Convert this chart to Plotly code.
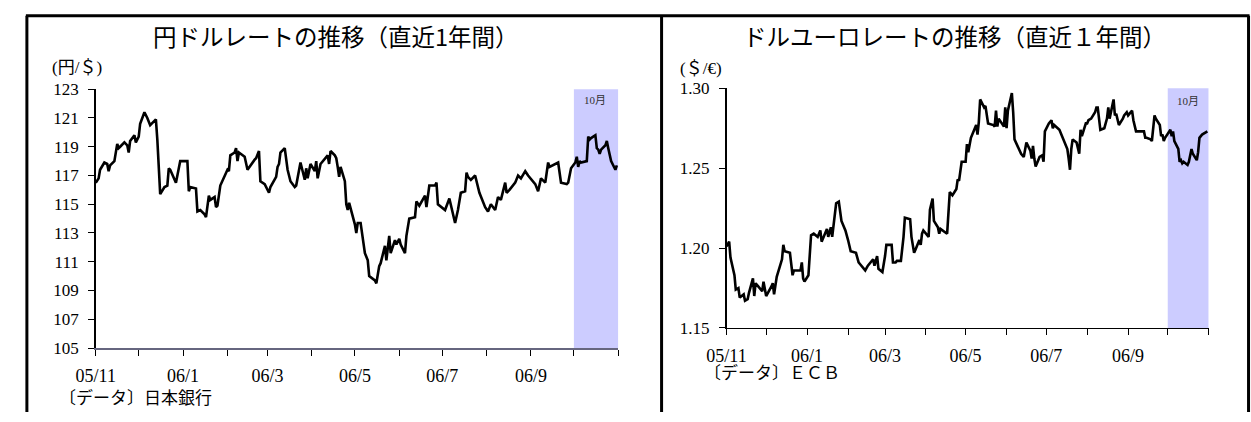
import plotly.graph_objects as go

# ---------------- data ----------------
JPY_DATES = [
    "2005-11-01","2005-11-03","2005-11-04","2005-11-07","2005-11-09","2005-11-10","2005-11-11","2005-11-14",
    "2005-11-16","2005-11-17","2005-11-18","2005-11-21","2005-11-23","2005-11-24","2005-11-25","2005-11-28",
    "2005-11-29","2005-12-01","2005-12-02","2005-12-05","2005-12-07","2005-12-09","2005-12-13","2005-12-14",
    "2005-12-16","2005-12-19","2005-12-21","2005-12-22","2005-12-23","2005-12-27","2005-12-30","2006-01-04",
    "2006-01-05","2006-01-06","2006-01-10","2006-01-11","2006-01-13","2006-01-16","2006-01-17","2006-01-19",
    "2006-01-20","2006-01-23","2006-01-24","2006-01-25","2006-01-27","2006-02-01","2006-02-02","2006-02-03",
    "2006-02-06","2006-02-07","2006-02-08","2006-02-09","2006-02-13","2006-02-15","2006-02-20","2006-02-21",
    "2006-02-23","2006-02-24","2006-02-27","2006-03-02","2006-03-03","2006-03-07","2006-03-08","2006-03-09",
    "2006-03-10","2006-03-13","2006-03-15","2006-03-17","2006-03-20","2006-03-21","2006-03-24","2006-03-27",
    "2006-03-28","2006-03-29","2006-03-31","2006-04-03","2006-04-04","2006-04-05","2006-04-07","2006-04-10",
    "2006-04-12","2006-04-13","2006-04-14","2006-04-17","2006-04-18","2006-04-19","2006-04-20","2006-04-21",
    "2006-04-24","2006-04-25","2006-04-26","2006-04-27","2006-05-01","2006-05-02","2006-05-03","2006-05-05",
    "2006-05-08","2006-05-10","2006-05-11","2006-05-15","2006-05-16","2006-05-18","2006-05-19","2006-05-22",
    "2006-05-23","2006-05-25","2006-05-26","2006-05-29","2006-05-30","2006-06-01","2006-06-02","2006-06-05",
    "2006-06-06","2006-06-08","2006-06-12","2006-06-13","2006-06-15","2006-06-19","2006-06-20","2006-06-22",
    "2006-06-26","2006-06-27","2006-06-28","2006-07-03","2006-07-04","2006-07-06","2006-07-10","2006-07-12",
    "2006-07-14","2006-07-17","2006-07-18","2006-07-19","2006-07-21","2006-07-24","2006-07-27","2006-07-31",
    "2006-08-02","2006-08-04","2006-08-07","2006-08-09","2006-08-11","2006-08-14","2006-08-15","2006-08-17",
    "2006-08-21","2006-08-23","2006-08-25","2006-08-28","2006-08-30","2006-09-04","2006-09-06","2006-09-08",
    "2006-09-11","2006-09-13","2006-09-14","2006-09-18","2006-09-20","2006-09-22","2006-09-26","2006-09-27",
    "2006-09-29","2006-10-02","2006-10-03","2006-10-04","2006-10-05","2006-10-06","2006-10-10","2006-10-11",
    "2006-10-12","2006-10-13","2006-10-16","2006-10-17","2006-10-18","2006-10-19","2006-10-20","2006-10-23",
    "2006-10-24","2006-10-25","2006-10-26","2006-10-27","2006-10-30","2006-10-31",
]
JPY_RATES = [
    116.5,116.8,117.4,117.9,117.8,117.3,117.7,118.0,
    119.2,118.9,119.0,119.3,119.1,118.6,119.4,119.8,
    119.3,119.7,120.6,121.4,121.0,120.5,120.9,119.5,
    115.7,116.2,116.3,117.5,117.4,116.5,118.0,118.0,
    115.9,116.2,116.1,114.5,114.6,114.3,114.1,115.6,
    115.3,115.5,114.8,114.9,116.3,117.4,117.3,118.4,
    118.6,118.9,118.0,118.6,118.3,117.4,118.1,118.2,
    118.7,116.6,116.4,115.8,116.2,116.9,117.6,117.8,
    118.6,118.9,117.4,116.6,116.2,116.3,117.9,116.7,
    117.5,116.8,117.8,117.3,118.0,116.8,117.8,118.2,
    118.4,117.8,118.7,118.4,118.2,117.6,116.9,117.6,
    116.6,115.0,114.6,115.1,113.6,113.0,113.7,113.7,
    111.6,111.1,110.0,109.7,109.5,110.7,110.9,112.1,
    111.1,112.8,111.6,112.5,112.2,112.6,112.2,111.6,
    112.8,114.0,114.1,115.2,114.9,115.6,114.8,116.3,
    116.3,116.5,115.0,114.6,114.9,115.4,113.7,114.6,
    115.8,115.9,117.2,116.9,116.7,117.0,115.8,114.8,
    114.5,115.0,114.6,115.5,115.3,116.5,115.8,116.0,
    116.5,117.0,116.8,117.3,117.0,116.4,115.9,116.8,
    116.5,117.9,117.6,117.8,117.9,116.5,116.4,116.5,
    117.5,117.9,118.3,117.6,118.0,117.9,118.0,119.7,
    119.5,119.6,119.8,118.9,118.8,118.5,118.8,119.1,
    119.4,118.9,118.4,118.0,117.4,117.7,
]

EUR_DATES = [
    "2005-11-01","2005-11-03","2005-11-04","2005-11-07","2005-11-08","2005-11-10","2005-11-11","2005-11-14",
    "2005-11-15","2005-11-17","2005-11-18","2005-11-21","2005-11-22","2005-11-23","2005-11-25","2005-11-28",
    "2005-11-29","2005-12-01","2005-12-05","2005-12-06","2005-12-07","2005-12-09","2005-12-13","2005-12-14",
    "2005-12-15","2005-12-19","2005-12-21","2005-12-22","2005-12-27","2005-12-28","2005-12-29","2005-12-30",
    "2006-01-02","2006-01-04","2006-01-06","2006-01-09","2006-01-11","2006-01-12","2006-01-16","2006-01-17",
    "2006-01-19","2006-01-20","2006-01-23","2006-01-25","2006-01-27","2006-01-30","2006-02-01","2006-02-03",
    "2006-02-07","2006-02-09","2006-02-10","2006-02-14","2006-02-16","2006-02-20","2006-02-21","2006-02-23",
    "2006-02-24","2006-02-27","2006-03-01","2006-03-02","2006-03-06","2006-03-07","2006-03-09","2006-03-10",
    "2006-03-13","2006-03-15","2006-03-16","2006-03-20","2006-03-21","2006-03-23","2006-03-24","2006-03-27",
    "2006-03-28","2006-03-29","2006-03-30","2006-04-03","2006-04-04","2006-04-06","2006-04-07","2006-04-10",
    "2006-04-11","2006-04-12","2006-04-17","2006-04-18","2006-04-19","2006-04-21","2006-04-24","2006-04-25",
    "2006-04-26","2006-04-28","2006-05-01","2006-05-02","2006-05-03","2006-05-05","2006-05-08","2006-05-09",
    "2006-05-10","2006-05-11","2006-05-12","2006-05-15","2006-05-16","2006-05-18","2006-05-22","2006-05-23",
    "2006-05-24","2006-05-25","2006-05-26","2006-05-29","2006-05-30","2006-05-31","2006-06-01","2006-06-02",
    "2006-06-05","2006-06-06","2006-06-07","2006-06-12","2006-06-14","2006-06-16","2006-06-19","2006-06-20",
    "2006-06-21","2006-06-22","2006-06-23","2006-06-26","2006-06-28","2006-06-29","2006-06-30","2006-07-03",
    "2006-07-05","2006-07-06","2006-07-07","2006-07-11","2006-07-14","2006-07-17","2006-07-18","2006-07-19",
    "2006-07-20","2006-07-21","2006-07-24","2006-07-25","2006-07-26","2006-07-27","2006-07-28","2006-07-31",
    "2006-08-01","2006-08-02","2006-08-04","2006-08-07","2006-08-08","2006-08-09","2006-08-10","2006-08-11",
    "2006-08-14","2006-08-16","2006-08-17","2006-08-18","2006-08-21","2006-08-22","2006-08-23","2006-08-25",
    "2006-08-28","2006-08-29","2006-08-31","2006-09-01","2006-09-04","2006-09-05","2006-09-07","2006-09-11",
    "2006-09-13","2006-09-14","2006-09-15","2006-09-18","2006-09-19","2006-09-21","2006-09-22","2006-09-25",
    "2006-09-26","2006-09-27","2006-09-28","2006-09-29","2006-10-03","2006-10-04","2006-10-05","2006-10-06",
    "2006-10-09","2006-10-10","2006-10-11","2006-10-12","2006-10-13","2006-10-16","2006-10-17","2006-10-19",
    "2006-10-20","2006-10-23","2006-10-24","2006-10-25","2006-10-27","2006-10-31",
]
EUR_RATES = [
    1.201,1.204,1.194,1.183,1.174,1.175,1.169,1.171,
    1.167,1.168,1.172,1.181,1.170,1.178,1.176,1.173,
    1.179,1.170,1.176,1.178,1.171,1.182,1.193,1.202,
    1.198,1.197,1.183,1.186,1.186,1.191,1.181,1.179,
    1.183,1.208,1.209,1.207,1.211,1.204,1.212,1.207,
    1.213,1.207,1.228,1.229,1.217,1.211,1.205,1.198,
    1.197,1.191,1.190,1.186,1.189,1.193,1.189,1.195,
    1.187,1.185,1.195,1.202,1.202,1.191,1.191,1.192,
    1.192,1.207,1.219,1.218,1.207,1.197,1.199,1.205,
    1.202,1.209,1.211,1.207,1.224,1.231,1.217,1.213,
    1.209,1.212,1.209,1.226,1.235,1.233,1.237,1.243,
    1.242,1.254,1.254,1.265,1.260,1.269,1.275,1.277,
    1.271,1.279,1.293,1.288,1.289,1.278,1.277,1.276,
    1.286,1.276,1.281,1.277,1.276,1.288,1.275,1.286,
    1.297,1.285,1.268,1.259,1.257,1.266,1.261,1.256,
    1.264,1.256,1.251,1.257,1.258,1.254,1.273,1.278,
    1.280,1.275,1.277,1.274,1.268,1.262,1.256,1.249,
    1.262,1.268,1.266,1.263,1.259,1.274,1.270,1.278,
    1.278,1.280,1.281,1.285,1.288,1.288,1.279,1.274,
    1.275,1.281,1.288,1.281,1.293,1.283,1.284,1.277,
    1.281,1.283,1.285,1.283,1.286,1.280,1.273,1.273,
    1.273,1.269,1.269,1.268,1.267,1.283,1.281,1.277,
    1.270,1.271,1.267,1.269,1.274,1.270,1.273,1.267,
    1.262,1.254,1.255,1.253,1.254,1.252,1.254,1.262,
    1.259,1.255,1.260,1.269,1.271,1.273,
]

X_TICK_DATES = ["2005-11-01","2006-01-01","2006-03-01","2006-05-01","2006-07-01","2006-09-01","2006-11-01"]
X_TICK_LABELS = ["05/11","06/1","06/3","06/5","06/7","06/9",""]
X_RANGE = ["2005-11-01","2006-11-01"]
SHADE = ["2006-10-01","2006-11-01"]
SHADE_LABEL_DATE = "2006-10-16"

JPY_RANGE = [105, 123]
EUR_RANGE = [1.15, 1.30]

TITLE_L = "円ドルレートの推移（直近1年間）"
TITLE_R = "ドルユーロレートの推移（直近１年間）"
UNIT_L = "(円/＄)"
UNIT_R = "(＄/€)"
SRC_L = "〔データ〕日本銀行"
SRC_R = "〔データ〕ＥＣＢ"
SHADE_TXT = "10月"

# ---------------- figure ----------------
W, H = 1251, 422
SERIF = "Liberation Serif, Noto Sans CJK JP, serif"
SANS = "Noto Sans CJK JP, sans-serif"

def px(x):
    return x / W

def py(y):
    return 1 - y / H

fig = go.Figure()
fig.add_trace(go.Scatter(x=JPY_DATES, y=JPY_RATES, mode="lines",
                         line=dict(color="black", width=2.6), xaxis="x", yaxis="y",
                         showlegend=False, hoverinfo="skip"))
fig.add_trace(go.Scatter(x=EUR_DATES, y=EUR_RATES, mode="lines",
                         line=dict(color="black", width=2.6), xaxis="x2", yaxis="y2",
                         showlegend=False, hoverinfo="skip"))

xtickfont = dict(family=SERIF, size=18, color="black")
ytickfont = dict(family=SERIF, size=17, color="black")

def xaxis(domain, anchor, linecolor):
    return dict(domain=domain, anchor=anchor, type="date", range=X_RANGE,
                tickmode="array", tickvals=X_TICK_DATES, ticktext=X_TICK_LABELS,
                ticks="outside", ticklen=6, tickwidth=1, tickcolor="black",
                minor=dict(dtick="M1", tick0="2005-11-01", ticks="outside", ticklen=6,
                           tickwidth=1, tickcolor="black", showgrid=False),
                showline=True, linecolor=linecolor, linewidth=1.5,
                showgrid=False, zeroline=False, tickfont=xtickfont,
                ticklabelstandoff=5, fixedrange=True)

def yaxis(domain, anchor, rng, dtick, fmt):
    return dict(domain=domain, anchor=anchor, range=rng, tick0=rng[0], dtick=dtick,
                tickformat=fmt, ticks="outside", ticklen=6, tickwidth=1, tickcolor="black",
                showline=True, linecolor="black", linewidth=1.5, showgrid=False,
                zeroline=False, tickfont=ytickfont, ticklabelstandoff=6, fixedrange=True)

fig.update_layout(
    width=W, height=H, autosize=False,
    margin=dict(l=0, r=0, t=0, b=0),
    paper_bgcolor="white", plot_bgcolor="white",
    xaxis=xaxis([px(77), px(608)], "y", "#66667f"),
    yaxis=yaxis([py(355), py(84)], "x", JPY_RANGE, 2, "d"),
    xaxis2=xaxis([px(718), px(1208)], "y2", "black"),
    yaxis2=yaxis([py(334), py(83)], "x2", EUR_RANGE, 0.05, ".2f"),
)

shapes = []
for xr, yr in (("x", "y domain"), ("x2", "y2 domain")):
    shapes.append(dict(type="rect", xref=xr, yref=yr, x0=SHADE[0], x1=SHADE[1], y0=0, y1=1,
                       fillcolor="#ccccff", line=dict(width=0), layer="below"))
border = dict(color="black", width=3)
shapes += [
    dict(type="line", xref="paper", yref="paper", x0=px(6), x1=px(1249.5), y0=py(7), y1=py(7), line=border),
    dict(type="line", xref="paper", yref="paper", x0=px(7), x1=px(7), y0=py(7), y1=0, line=border),
    dict(type="line", xref="paper", yref="paper", x0=px(652), x1=px(652), y0=py(7), y1=0, line=border),
    dict(type="line", xref="paper", yref="paper", x0=px(1248.5), x1=px(1248.5), y0=py(7), y1=0, line=border),
]
fig.update_layout(shapes=shapes)

ann = []
def text(x, y, s, font, xanchor="left", xref="paper", yref="paper"):
    ann.append(dict(x=x, y=y, xref=xref, yref=yref, text=s, showarrow=False,
                    xanchor=xanchor, yanchor="middle", font=font))

text(px(321), py(28), TITLE_L, dict(family=SANS, size=23.5, color="black"), "center")
text(px(950), py(28), TITLE_R, dict(family=SANS, size=23.5, color="black"), "center")
text(px(30), py(61), UNIT_L, dict(family=SERIF, size=17, color="black"))
text(px(669), py(62), UNIT_R, dict(family=SERIF, size=17, color="black"))
text(px(38), py(407), SRC_L, dict(family=SERIF, size=17, color="black"))
text(px(693), py(381), SRC_R, dict(family=SERIF, size=17, color="black"))
text(SHADE_LABEL_DATE, (355 - 95) / (355 - 84), SHADE_TXT,
     dict(family=SERIF, size=11, color="#333333"), "center", "x", "y domain")
text(SHADE_LABEL_DATE, (334 - 96) / (334 - 83), SHADE_TXT,
     dict(family=SERIF, size=11, color="#333333"), "center", "x2", "y2 domain")
fig.update_layout(annotations=ann)

fig.write_html("out.html",
               config=dict(displayModeBar=False, staticPlot=True),
               post_script="document.body.style.margin='0';document.body.style.padding='0';"
                           "document.body.style.overflow='hidden';")
